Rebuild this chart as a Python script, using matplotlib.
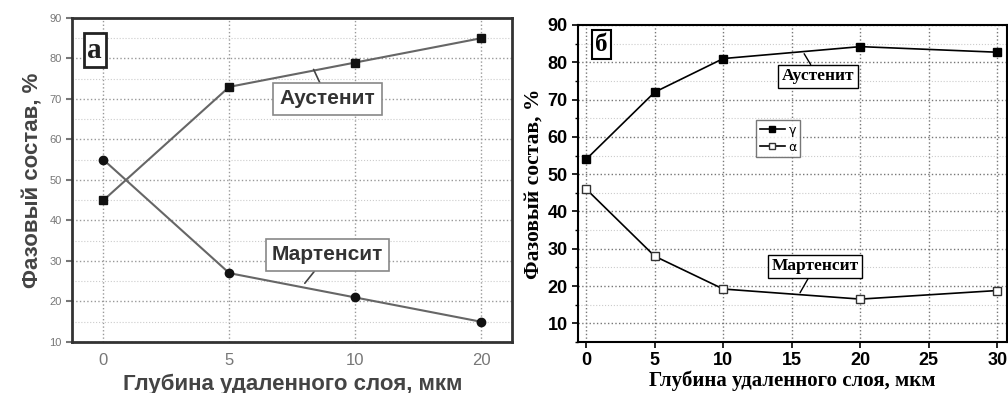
import matplotlib
matplotlib.use("Agg")
import matplotlib.pyplot as plt
from matplotlib.ticker import MultipleLocator

# panel a: categorical depths
depth_a = ["0", "5", "10", "20"]
austenite_a = [45, 73, 79, 85]
martensite_a = [55, 27, 21, 15]

# panel b: numeric depths
depth_b = [0, 5, 10, 20, 30]
austenite_b = [54, 72, 81, 84.2, 82.7]
martensite_b = [46, 28, 19.2, 16.5, 18.8]

xlabel = "Глубина удаленного слоя, мкм"
ylabel = "Фазовый состав, %"

fig = plt.figure(figsize=(10.08, 3.93), dpi=100)

# ---- panel a ----
ax1 = fig.add_axes([0.0714, 0.1298, 0.437, 0.8244])
xa = list(range(len(depth_a)))
ax1.plot(xa, austenite_a, color="#666666", lw=1.5, marker="s", ms=6,
         mfc="#111111", mec="#111111")
ax1.plot(xa, martensite_a, color="#666666", lw=1.5, marker="o", ms=6,
         mfc="#111111", mec="#111111")
ax1.set_xlim(-0.25, 3.25)
ax1.set_ylim(10, 90)
ax1.set_xticks(xa)
ax1.set_xticklabels(depth_a)
ax1.yaxis.set_major_locator(MultipleLocator(10))
ax1.yaxis.set_minor_locator(MultipleLocator(5))
ax1.grid(True, which="major", ls=":", color="#999999", lw=1.0)
ax1.grid(True, which="minor", axis="y", ls=":", color="#cccccc", lw=0.8)
for s in ax1.spines.values():
    s.set_color("#333333")
    s.set_linewidth(2.0)
ax1.tick_params(axis="y", which="major", labelsize=8, colors="#777777",
                length=4, width=1.5, direction="out")
ax1.tick_params(axis="y", which="minor", length=0)
ax1.tick_params(axis="x", labelsize=12, colors="#777777", length=0, pad=8)
ax1.set_xlabel(xlabel, fontsize=16, fontweight="bold", color="#444444",
               family="Liberation Sans", labelpad=4)
ax1.set_ylabel(ylabel, fontsize=16, fontweight="bold", color="#444444",
               family="Liberation Sans", labelpad=4)
for lbl in ax1.get_xticklabels() + ax1.get_yticklabels():
    lbl.set_family("Liberation Sans")

box_a = dict(boxstyle="square,pad=0.3", fc="white", ec="#888888", lw=1.2)
ax1.annotate("Аустенит", xy=(1.67, 77.3), xytext=(1.78, 70),
             ha="center", va="center", fontsize=15, fontweight="bold",
             color="#333333", family="Liberation Sans", bbox=box_a,
             arrowprops=dict(arrowstyle="-", color="#444444", lw=1.2,
                             shrinkA=0, shrinkB=0))
ax1.annotate("Мартенсит", xy=(1.6, 24.5), xytext=(1.78, 31.5),
             ha="center", va="center", fontsize=15, fontweight="bold",
             color="#333333", family="Liberation Sans", bbox=box_a,
             arrowprops=dict(arrowstyle="-", color="#444444", lw=1.2,
                             shrinkA=0, shrinkB=0))
ax1.text(0.035, 0.9, "а", transform=ax1.transAxes, fontsize=21,
         fontweight="bold", family="Liberation Serif", va="center",
         ha="left", color="#222222",
         bbox=dict(boxstyle="square,pad=0.12", fc="white", ec="#222222", lw=2))

# ---- panel b ----
ax2 = fig.add_axes([0.5734, 0.1298, 0.4256, 0.8066])
ax2.plot(depth_b, austenite_b, color="black", lw=1.2, marker="s", ms=6,
         mfc="black", mec="black", label="γ")
ax2.plot(depth_b, martensite_b, color="black", lw=1.2, marker="s", ms=6,
         mfc="white", mec="#333333", label="α")
ax2.set_xlim(-0.6, 30.7)
ax2.set_ylim(5, 90)
ax2.xaxis.set_major_locator(MultipleLocator(5))
ax2.yaxis.set_minor_locator(MultipleLocator(5))
ax2.set_yticks([10, 20, 30, 40, 50, 60, 70, 80, 90])
ax2.grid(True, which="major", ls=":", color="#777777", lw=1.0)
ax2.grid(True, which="minor", axis="y", ls=":", color="#cccccc", lw=0.8)
for s in ax2.spines.values():
    s.set_color("black")
    s.set_linewidth(1.5)
ax2.tick_params(axis="both", which="major", labelsize=13, length=4,
                width=1.2, direction="out")
ax2.tick_params(axis="y", which="minor", length=2.5, width=1.0)
for lbl in ax2.get_xticklabels() + ax2.get_yticklabels():
    lbl.set_family("Liberation Sans")
    lbl.set_fontweight("bold")
ax2.set_xlabel(xlabel, fontsize=15, fontweight="bold",
               family="Liberation Serif", labelpad=1)
ax2.set_ylabel(ylabel, fontsize=15.5, fontweight="bold",
               family="Liberation Serif", labelpad=3)

box_b = dict(boxstyle="square,pad=0.2", fc="white", ec="black", lw=1.0)
ax2.annotate("Аустенит", xy=(15.9, 82.3), xytext=(16.9, 76.2),
             ha="center", va="center", fontsize=12.5, fontweight="bold",
             family="Liberation Serif", bbox=box_b,
             arrowprops=dict(arrowstyle="-", color="black", lw=1.0,
                             shrinkA=0, shrinkB=0))
ax2.annotate("Мартенсит", xy=(15.6, 18.2), xytext=(16.7, 25.3),
             ha="center", va="center", fontsize=12.5, fontweight="bold",
             family="Liberation Serif", bbox=box_b,
             arrowprops=dict(arrowstyle="-", color="black", lw=1.0,
                             shrinkA=0, shrinkB=0))
ax2.text(0.04, 0.94, "б", transform=ax2.transAxes, fontsize=18,
         fontweight="bold", family="Liberation Serif", va="center",
         ha="left",
         bbox=dict(boxstyle="square,pad=0.12", fc="white", ec="black", lw=1.5))
leg = ax2.legend(loc="upper left", bbox_to_anchor=(0.4, 0.72), fontsize=9,
                 frameon=True, fancybox=False, edgecolor="#555555",
                 handlelength=2.0, handletextpad=0.3, borderpad=0.3,
                 labelspacing=0.3, markerscale=0.8)
leg.get_frame().set_linewidth(1.0)

fig.savefig("out.png", dpi=100)
